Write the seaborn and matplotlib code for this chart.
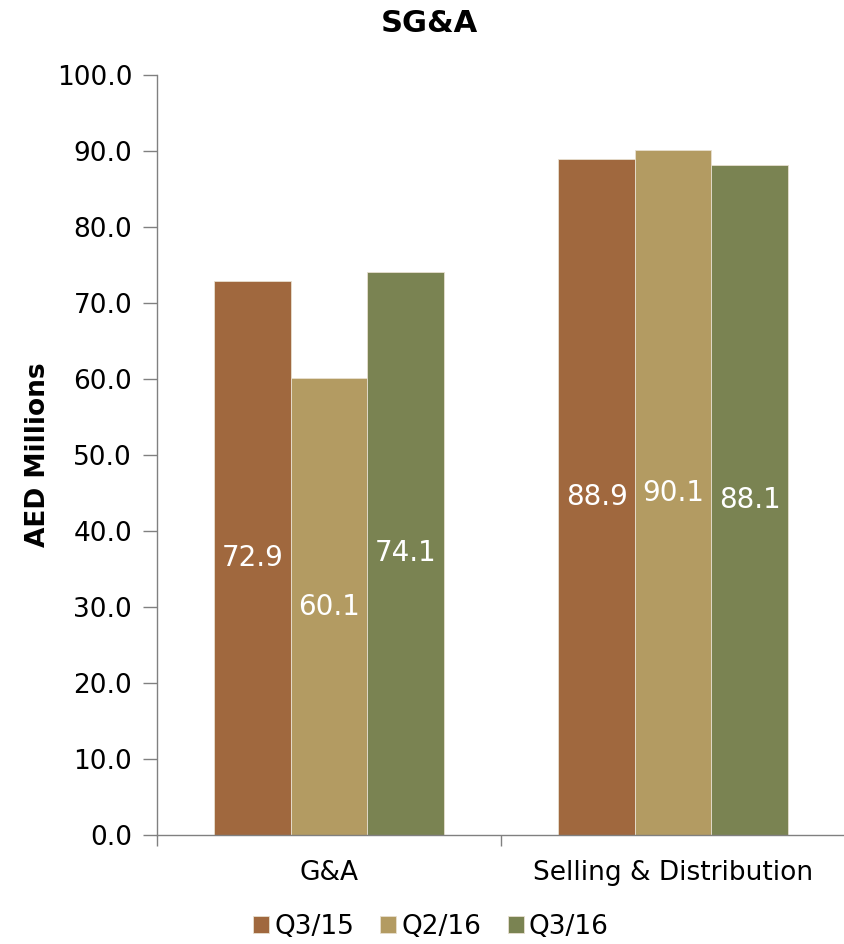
import matplotlib
matplotlib.use("Agg")
import matplotlib.pyplot as plt
import seaborn as sns
import pandas as pd
from matplotlib.ticker import FixedLocator, FuncFormatter

categories = ["G&A", "Selling & Distribution"]
series = ["Q3/15", "Q2/16", "Q3/16"]
q3_15 = [72.9, 88.9]
q2_16 = [60.1, 90.1]
q3_16 = [74.1, 88.1]
colors = ["#A0683E", "#B39B62", "#7A8352"]

rows = []
for s, vals in zip(series, [q3_15, q2_16, q3_16]):
    for c, v in zip(categories, vals):
        rows.append({"Category": c, "Period": s, "Value": v})
df = pd.DataFrame(rows)

sns.set_theme(style="white")
plt.rcParams["font.family"] = ["DejaVu Sans"]
plt.rcParams["text.color"] = "black"
plt.rcParams["axes.labelcolor"] = "black"
plt.rcParams["xtick.color"] = "black"
plt.rcParams["ytick.color"] = "black"

fig = plt.figure(figsize=(8.45, 9.44), dpi=100)
ax = fig.add_axes([0.186, 0.1155, 0.814, 0.805])

sns.barplot(data=df, x="Category", y="Value", hue="Period", order=categories,
            hue_order=series, palette=colors, width=0.667, dodge=True,
            edgecolor="#E8E0D0", linewidth=0.6, saturation=1, errorbar=None, ax=ax)

for cont in ax.containers:
    labels = [f"{b.get_height():.1f}" for b in cont]
    ax.bar_label(cont, labels=labels, label_type="center", color="white", fontsize=20)

ax.set_ylim(0, 100)
ax.set_xlim(-0.5, 1.5)
ax.set_yticks([i * 10 for i in range(11)])
ax.yaxis.set_major_formatter(FuncFormatter(lambda v, p: f"{v:.1f}"))
ax.tick_params(axis="y", labelsize=19, length=10, color="#808080", width=1,
               left=True, pad=8, labelcolor="black")

ax.xaxis.set_major_locator(FixedLocator([-0.5, 0.5, 1.5]))
ax.xaxis.set_major_formatter(FuncFormatter(lambda v, p: ""))
ax.xaxis.set_minor_locator(FixedLocator([0, 1]))
ax.set_xticklabels(categories, minor=True)
ax.tick_params(axis="x", which="major", length=8, color="#808080", width=1, bottom=True)
ax.tick_params(axis="x", which="minor", length=0, labelsize=19, pad=18, labelcolor="black")

for side in ["top", "right"]:
    ax.spines[side].set_visible(False)
for side in ["left", "bottom"]:
    ax.spines[side].set_color("#808080")
    ax.spines[side].set_linewidth(1)

ax.set_xlabel("")
ax.set_ylabel("AED Millions", fontsize=19, fontweight="bold", labelpad=4, color="black")
fig.suptitle("SG&A", fontsize=22, fontweight="bold", x=0.508, y=0.99, color="black")

handles, labels = ax.get_legend_handles_labels()
ax.legend_.remove()
fig.legend(handles, labels, loc="center", bbox_to_anchor=(0.51, 0.018),
           ncol=3, frameon=False, fontsize=19, handlelength=0.6, handleheight=0.6,
           handletextpad=0.2, columnspacing=1.0)

fig.savefig("out.png", dpi=100)
